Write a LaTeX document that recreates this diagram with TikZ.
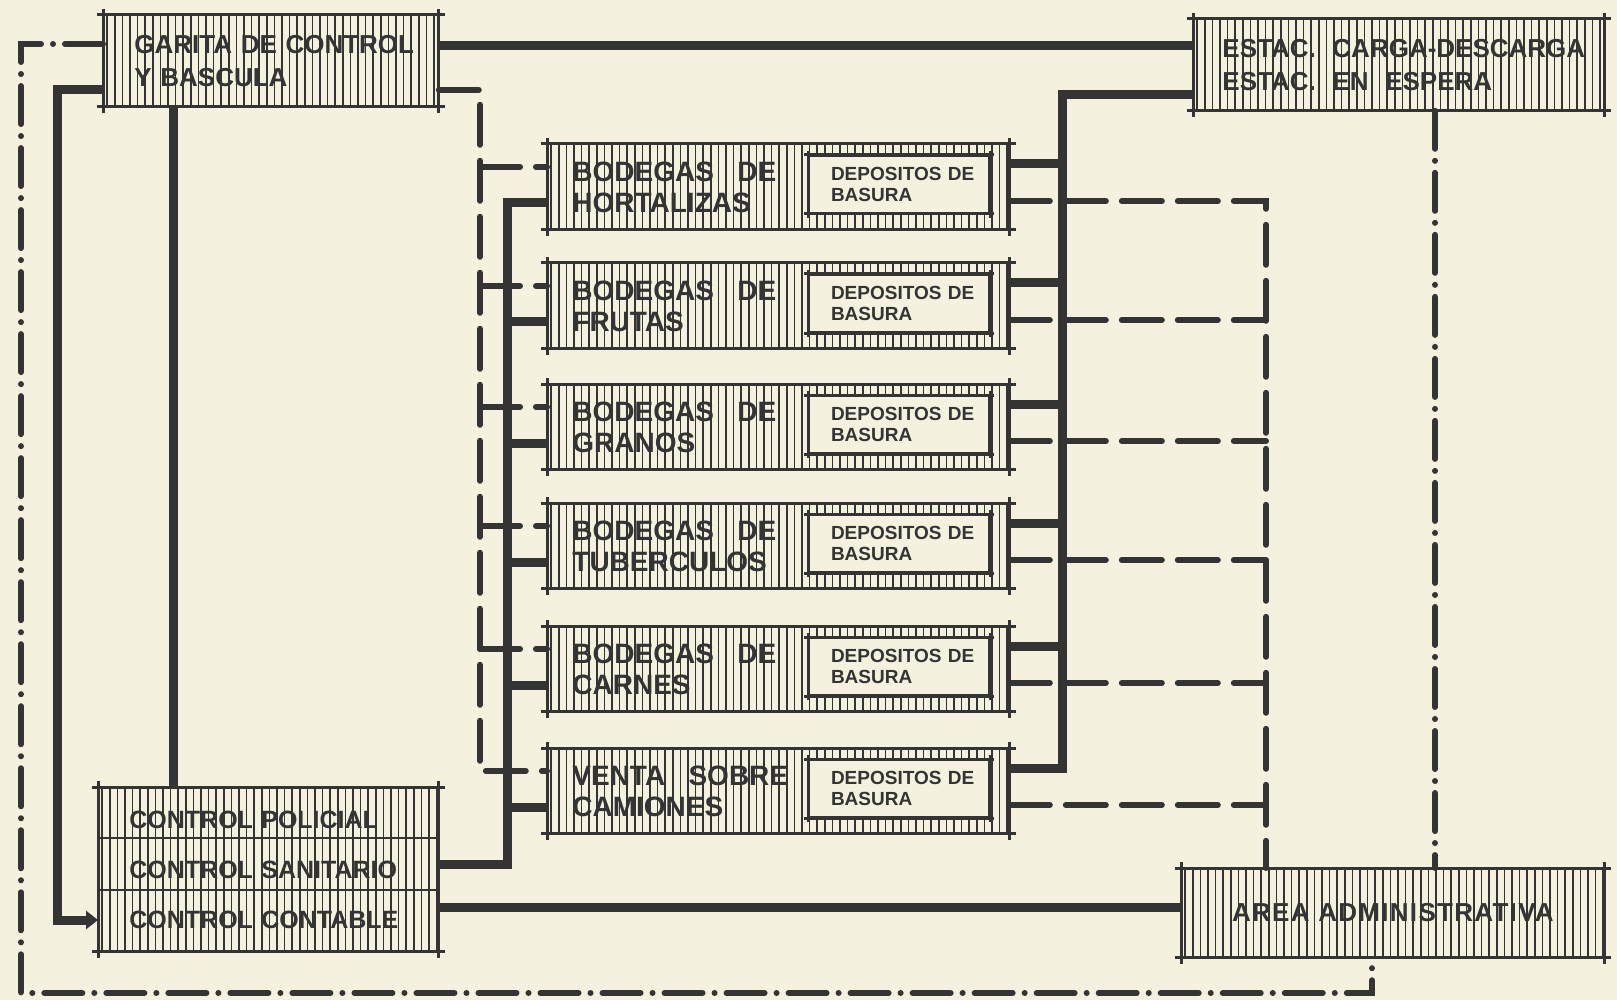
\documentclass[tikz,border=0pt]{standalone}
\usepackage{fontspec}
\setmainfont{Liberation Sans}
\newfontfamily\spaced[LetterSpace=5]{Liberation Sans}
\usetikzlibrary{arrows.meta,calc}
\definecolor{paper}{HTML}{F4F2DF}
\definecolor{ink}{HTML}{333433}
\tikzset{
  hatchbox/.style={anchor=north west, inner ysep=0pt, text=ink, align=left,
    path picture={\foreach \k in {0,...,65}{\draw[ink,line width=0.8pt]
      ([xshift=\k*3.8pt+1.9pt]path picture bounding box.south west) --
      ([xshift=\k*3.8pt+1.9pt]path picture bounding box.north west);}}},
  bigfont/.style={font=\bfseries\fontsize{13}{16.5}\selectfont},
  bodfont/.style={font=\bfseries\fontsize{14}{15.5}\selectfont},
  bodega/.style={hatchbox, bodfont, minimum width=231pt, minimum height=42.5pt,
    text width=206pt, inner xsep=12.5pt},
  depbox/.style={anchor=north west, draw=ink, line width=1pt, fill=paper, text=ink,
    align=left, minimum width=90pt, minimum height=28.5pt, text width=68pt,
    inner xsep=11pt, inner ysep=0pt, font=\bfseries\fontsize{9.5}{10.5}\selectfont},
  thickline/.style={ink, line width=4.5pt},
  dashline/.style={ink, line width=3pt, line cap=round, dash pattern=on 20pt off 8pt},
  dotdash/.style={ink, line width=3pt, line cap=round, dash pattern=on 19pt off 6pt on 0.01pt off 6pt},
}
\newcommand\archframe[2]{%
  \draw[ink,line width=1.5pt]
    ([xshift=-#2]#1.north west) -- ([xshift=#2]#1.north east)
    ([xshift=-#2]#1.south west) -- ([xshift=#2]#1.south east)
    ([yshift=#2]#1.north west) -- ([yshift=-#2]#1.south west)
    ([yshift=#2]#1.north east) -- ([yshift=-#2]#1.south east);}
\begin{document}
\begin{tikzpicture}[x=0.5pt,y=-0.5pt]
\fill[paper] (0,0) rectangle (1617,1000);
\useasboundingbox (0,0) rectangle (1617,1000);

% ---------- boxes ----------
\node[hatchbox, bigfont, minimum width=167.5pt, minimum height=45.5pt,
  text width=136.5pt, inner xsep=15.5pt] (garita) at (103,15)
  {\mbox{GARITA DE CONTROL}\\\mbox{Y BASCULA}};
\node[hatchbox, bigfont, minimum width=205.5pt, minimum height=45.5pt,
  text width=176.5pt, inner xsep=14.5pt] (estac) at (1193,19)
  {\mbox{ESTAC.\hspace{4pt} CARGA-DESCARGA}\\\mbox{ESTAC.\hspace{4pt} EN\hspace{4pt} ESPERA}};
\node[bodega] (b1) at (547,144) {\mbox{BODEGAS\hspace{7pt} DE}\\\mbox{HORTALIZAS}};
\node[bodega] (b2) at (547,263) {\mbox{BODEGAS\hspace{7pt} DE}\\\mbox{FRUTAS}};
\node[bodega] (b3) at (547,384) {\mbox{BODEGAS\hspace{7pt} DE}\\\mbox{GRANOS}};
\node[bodega] (b4) at (547,503) {\mbox{BODEGAS\hspace{7pt} DE}\\\mbox{TUBERCULOS}};
\node[bodega] (b5) at (547,626) {\mbox{BODEGAS\hspace{7pt} DE}\\\mbox{CARNES}};
\node[bodega] (b6) at (547,748) {\mbox{VENTA\hspace{7pt} SOBRE}\\\mbox{CAMIONES}};
\node[hatchbox, font=\bfseries\fontsize{12.5}{25}\selectfont, minimum width=170pt,
  minimum height=82pt, text width=139pt, inner xsep=15.5pt] (control) at (98,787)
  {\mbox{CONTROL POLICIAL}\\\mbox{CONTROL SANITARIO}\\\mbox{CONTROL CONTABLE}};
\node[hatchbox, font=\spaced\bfseries\fontsize{13}{16}\selectfont, align=center,
  minimum width=211.5pt, minimum height=44.5pt, text width=191.5pt,
  inner xsep=10pt] (admin) at (1181,868) {\mbox{AREA ADMINISTRATIVA}};

\foreach \i/\t in {1/144,2/263,3/384,4/503,5/626,6/748}{
  \node[depbox] (d\i) at (808,\t+11) {\mbox{DEPOSITOS DE}\\\mbox{BASURA}};
  \archframe{d\i}{2pt}
  \archframe{b\i}{3pt}
}
\archframe{garita}{3pt}
\archframe{estac}{3pt}
\archframe{control}{3pt}
\archframe{admin}{3pt}
\draw[ink,line width=1.2pt] (control.west |- 0,838) -- (control.east |- 0,838)
  (control.west |- 0,890) -- (control.east |- 0,890);

% ---------- connectors ----------
% outer dash-dot loop
\draw[dotdash] (garita.west |- 0,44) -- (21,44) -- (21,993) -- (1372,993)
  -- (1372,0 |- admin.south);
% estac to admin
\draw[dotdash] (1435,0 |- estac.south) -- (1435,0 |- admin.north);

% garita -> estac
\draw[thickline] (garita.east |- 0,46) -- (estac.west |- 0,46);
% garita -> control contable
\draw[thickline, -{Triangle[length=6pt,width=9pt]}] (garita.west |- 0,90)
  -- (57,90) -- (57,920) -- (control.west |- 0,920);
% garita -> control
\draw[thickline] (173,0 |- garita.south) -- (173,0 |- control.north);
% control -> admin
\draw[thickline] (control.east |- 0,907) -- (admin.west |- 0,907);

% control sanitario -> bodegas (thick, left)
\draw[thickline] (control.east |- 0,864) -- (507,864) -- (507,203) -- (b1.west |- 0,203);
\foreach \i/\t in {2/263,3/384,4/503,5/626,6/748}{
  \draw[thickline] (507,\t+59) -- (b\i.west |- 0,\t+59);}

% estac -> bodegas (thick, right)
\draw[thickline] (estac.west |- 0,95) -- (1062,95) -- (1062,768) -- (b6.east |- 0,768);
\foreach \i/\t in {1/144,2/263,3/384,4/503,5/626}{
  \draw[thickline] (1062,\t+20) -- (b\i.east |- 0,\t+20);}

% garita -> bodegas (dashed, left)
\draw[dashline] (garita.east |- 0,90) -- (480,90) -- (480,771) -- (b6.west |- 0,771);
\foreach \i/\t in {1/144,2/263,3/384,4/503,5/626}{
  \draw[dashline] (480,\t+23) -- (b\i.west |- 0,\t+23);}

% bodegas -> admin (dashed, right)
\draw[dashline] (b1.east |- 0,201) -- (1266,201) -- (1266,0 |- admin.north);
\foreach \i/\t in {2/263,3/384,4/503,5/626,6/748}{
  \draw[dashline] (b\i.east |- 0,\t+57) -- (1266,\t+57);}
\end{tikzpicture}
\end{document}
